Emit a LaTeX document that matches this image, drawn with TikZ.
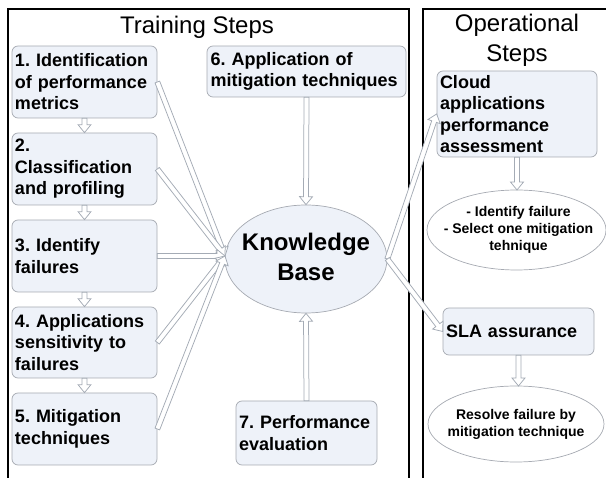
\documentclass[tikz,border=0pt]{standalone}
\usepackage{fontspec}
\setmainfont{Liberation Sans}
\usetikzlibrary{shapes.geometric,calc}
\frenchspacing
\hyphenpenalty=10000
\exhyphenpenalty=10000
\definecolor{boxfill}{HTML}{EEF2F9}
\definecolor{boxline}{HTML}{A6AAB2}
\definecolor{agray}{HTML}{A4ABB5}
\tikzset{
  stepbox/.style={draw=boxline, fill=boxfill, line width=0.7pt, rounded corners=6pt,
    inner xsep=3pt, inner ysep=0pt, align=left, font=\fontsize{18}{21.5}\selectfont\bfseries},
  ellbox/.style={draw=boxline, ellipse, line width=0.7pt, inner sep=0pt},
  elltext/.style={align=center, inner sep=0pt, font=\fontsize{14}{17}\selectfont\bfseries},
  title/.style={align=center, inner sep=0pt, font=\fontsize{24}{30}\selectfont},
  blockarrow/.style={draw=agray, fill=white, line width=0.75pt, line join=miter,
    to path={
      ($(\tikztotarget)!8pt!(\tikztostart)$) coordinate (ah)
      ($(\tikztostart)!2.5pt!90:(\tikztotarget)$) --
      ($(ah)!2.5pt!-90:(\tikztostart)$) --
      ($(ah)!6.5pt!-90:(\tikztostart)$) --
      (\tikztotarget) --
      ($(ah)!6.5pt!90:(\tikztostart)$) --
      ($(ah)!2.5pt!90:(\tikztostart)$) --
      ($(\tikztostart)!2.5pt!-90:(\tikztotarget)$) -- cycle
    }},
}
\begin{document}
\begin{tikzpicture}[x=1pt,y=-1pt]
\useasboundingbox (0,0) rectangle (606,478);
% frames
\draw[line width=2.6pt] (8,485) -- (8,9) -- (409,9) -- (409,485);
\draw[line width=1.3pt] (423,485) -- (423,9) -- (615,9);
% titles
\node[title] (t1) at (197,27) {Training Steps};
\node[title] (t2) at (517,40) {Operational\\Steps};
% left column boxes
\node[stepbox, minimum width=145pt, text width=139pt, minimum height=72pt] (b1) at (84.5,82) {1. Identification\\of performance\\metrics};
\node[stepbox, minimum width=145pt, text width=139pt, minimum height=72pt] (b2) at (84.5,169) {2.\\Classification\\and profiling};
\node[stepbox, minimum width=145pt, text width=139pt, minimum height=72pt] (b3) at (84.5,256) {3. Identify\\failures};
\node[stepbox, minimum width=145pt, text width=139pt, minimum height=71pt] (b4) at (84.5,342.5) {4. Applications\\sensitivity to\\failures};
\node[stepbox, minimum width=145pt, text width=139pt, minimum height=72pt] (b5) at (84.5,429) {5. Mitigation\\techniques};
\node[stepbox, minimum width=199pt, text width=192pt, minimum height=51pt] (b6) at (306.5,71.5) {6. Application of\\mitigation techniques};
\node[stepbox, minimum width=141pt, text width=135pt, minimum height=64pt] (b7) at (306.5,433) {7. Performance\\evaluation};
% knowledge base
\node[ellbox, fill=boxfill, minimum width=162pt, minimum height=108pt] (kb) at (306,259) {};
\node[align=center, inner sep=0pt, font=\fontsize{24}{30}\selectfont\bfseries] (kbt) at (306,257) {Knowledge\\Base};
% right column
\node[stepbox, minimum width=160pt, text width=154pt, minimum height=86pt] (cl) at (517,114) {Cloud\\applications\\performance\\assessment};
\node[ellbox, fill=white, minimum width=179pt, minimum height=80pt] (e1) at (516.5,230) {};
\node[elltext] (e1t) at (518.5,230) {- Identify failure\\- Select one mitigation\\tehnique};
\node[stepbox, minimum width=151pt, text width=145pt, minimum height=47pt] (sla) at (518.5,331.5) {SLA assurance};
\node[ellbox, fill=white, minimum width=176pt, minimum height=76pt] (e2) at (516,424) {};
\node[elltext] (e2t) at (516,424) {Resolve failure by\\mitigation technique};
% arrows
\coordinate (kbw) at (225,256);
\coordinate (e1top) at (517,190);
\coordinate (e2top) at (518.5,386);
\draw[blockarrow] (b1.south) to (b2.north);
\draw[blockarrow] (b2.south) to (b3.north);
\draw[blockarrow] (b3.south) to (b4.north);
\draw[blockarrow] (b4.south) to (b5.north);
\draw[blockarrow] (b1.east) to (kbw);
\draw[blockarrow] (b2.east) to (kbw);
\draw[blockarrow] (b3.east) to (kbw);
\draw[blockarrow] (b4.east) to (kbw);
\draw[blockarrow] (b5.east) to (kbw);
\draw[blockarrow] (b6.south) to (kb.north);
\draw[blockarrow] (b7.north) to (kb.south);
\draw[blockarrow] (kb.east) to (cl.west);
\draw[blockarrow] (kb.east) to (sla.west);
\draw[blockarrow] (cl.south) to (e1top);
\draw[blockarrow] (sla.south) to (e2top);
\end{tikzpicture}
\end{document}
